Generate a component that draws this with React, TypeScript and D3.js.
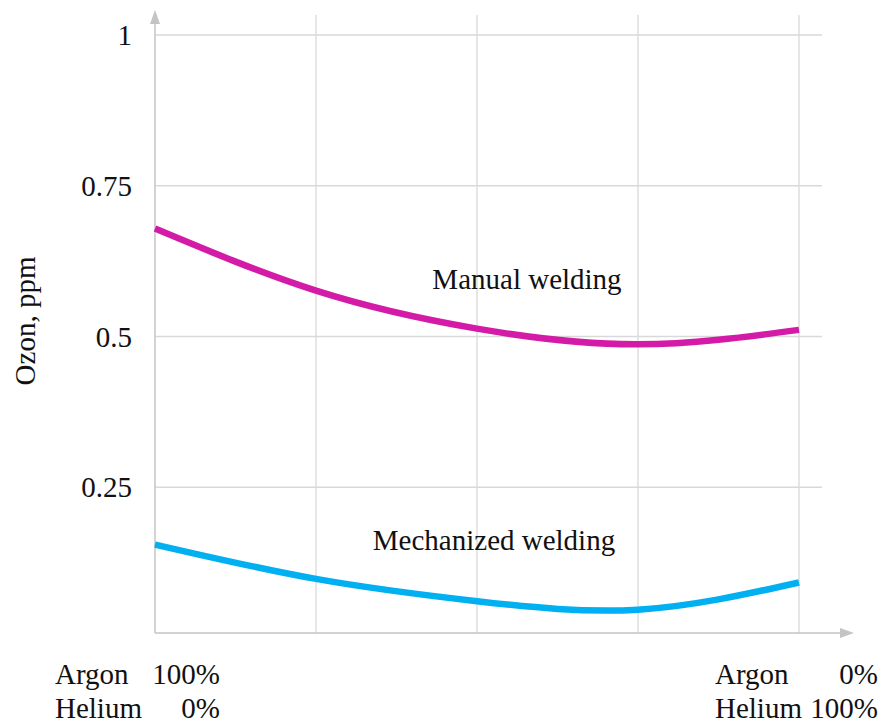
import React from "react";
import * as d3 from "d3";

const xPositions = [0, 1, 2, 3, 4];
const manualValues = [0.679, 0.576, 0.513, 0.487, 0.511];
const mechanizedValues = [0.155, 0.098, 0.061, 0.047, 0.092];
const yTicks = [0.25, 0.5, 0.75, 1];
const yTickLabels = ["0.25", "0.5", "0.75", "1"];
const seriesNames = ["Manual welding", "Mechanized welding"];
const seriesColors = ["#d31ba7", "#00b0f0"];

const W = 885;
const H = 726;
const FONT = "'Liberation Serif', 'Times New Roman', serif";
const FS = 29;

export default function App() {
  const x = d3.scaleLinear().domain([0, 4]).range([155, 799]);
  const y = d3.scaleLinear().domain([0, 1]).range([638, 35]);
  const line = d3
    .line<[number, number]>()
    .x((d) => x(d[0]))
    .y((d) => y(d[1]))
    .curve(d3.curveNatural);

  const series = [manualValues, mechanizedValues].map((vals) =>
    xPositions.map((xp, i) => [xp, vals[i]] as [number, number])
  );

  const axisY = 633;
  const gridColor = "#d9d9d9";
  const axisColor = "#c4c4c4";

  return (
    <svg
      width={W}
      height={H}
      style={{ position: "absolute", left: 0, top: 0, background: "#fff" }}
      fontFamily={FONT}
    >
      {xPositions.slice(1).map((xp) => (
        <line
          key={"vg" + xp}
          x1={x(xp)}
          x2={x(xp)}
          y1={15}
          y2={axisY}
          stroke={gridColor}
          strokeWidth={1.3}
        />
      ))}
      {yTicks.map((t) => (
        <line
          key={"hg" + t}
          x1={x(0)}
          x2={822}
          y1={y(t)}
          y2={y(t)}
          stroke={gridColor}
          strokeWidth={1.3}
        />
      ))}
      <line x1={x(0)} x2={x(0)} y1={22} y2={axisY} stroke={axisColor} strokeWidth={1.5} />
      <path d={`M${x(0) - 5},${24} L${x(0)},${10} L${x(0) + 5},${24} Z`} fill={axisColor} />
      <line x1={x(0)} x2={842} y1={axisY} y2={axisY} stroke={axisColor} strokeWidth={1.5} />
      <path d={`M${840},${axisY - 5} L${854},${axisY} L${840},${axisY + 5} Z`} fill={axisColor} />

      {yTicks.map((t, i) => (
        <text
          key={"yl" + t}
          x={132}
          y={y(t)}
          dy="0.35em"
          textAnchor="end"
          fontSize={FS}
          fill="#111"
        >
          {yTickLabels[i]}
        </text>
      ))}

      <text
        transform={`translate(35,321) rotate(-90)`}
        textAnchor="middle"
        fontSize={FS}
        fill="#111"
      >
        Ozon, ppm
      </text>

      {series.map((pts, i) => (
        <path
          key={"s" + i}
          d={line(pts) || ""}
          fill="none"
          stroke={seriesColors[i]}
          strokeWidth={6.5}
        />
      ))}

      <text x={527} y={289} textAnchor="middle" fontSize={FS} fill="#111">
        {seriesNames[0]}
      </text>
      <text x={494} y={550} textAnchor="middle" fontSize={FS} fill="#111">
        {seriesNames[1]}
      </text>

      <text x={55} y={684} fontSize={FS} fill="#111">Argon</text>
      <text x={220} y={684} textAnchor="end" fontSize={FS} fill="#111">100%</text>
      <text x={55} y={718} fontSize={FS} fill="#111">Helium</text>
      <text x={220} y={718} textAnchor="end" fontSize={FS} fill="#111">0%</text>

      <text x={715} y={684} fontSize={FS} fill="#111">Argon</text>
      <text x={878} y={684} textAnchor="end" fontSize={FS} fill="#111">0%</text>
      <text x={715} y={718} fontSize={FS} fill="#111">Helium</text>
      <text x={878} y={718} textAnchor="end" fontSize={FS} fill="#111">100%</text>
    </svg>
  );
}
